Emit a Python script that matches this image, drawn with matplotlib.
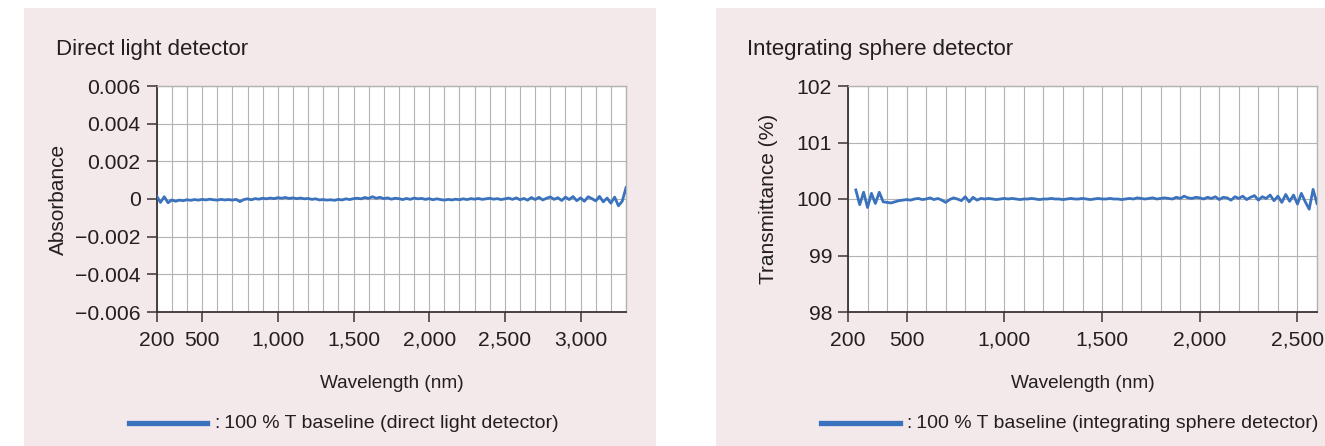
import numpy as np
import matplotlib
matplotlib.use("Agg")
import matplotlib.pyplot as plt
from matplotlib.patches import Rectangle
from matplotlib.lines import Line2D

plt.rcParams['font.family'] = ['Liberation Sans', 'DejaVu Sans']

# ---- data ----
# direct light detector, absorbance in units of 1e-4, sampled every 25 nm from 200 to 3300
direct_wl = np.arange(200, 3301, 25)
direct_abs_e4 = [
    1.5, -1.8, 1.2, -2.0, -0.5,
    -1.2, -0.6, -0.9, -0.4, -0.7, -0.3, -0.6, -0.2,
    -0.5, -0.1, -0.4, -0.6, -0.2, -0.5, -0.3, -0.6,
    -0.2, -1.4, -0.3, 0.1, -0.4, 0.2, -0.1, 0.4,
    0.1, 0.5, 0.2, 0.7, 0.4, 0.8, 0.3, 0.6,
    0.2, 0.5, 0.1, 0.3, -0.2, 0.1, -0.5, -0.3,
    -0.6, -0.4, -0.7, -0.2, -0.5, 0.1, -0.3, 0.2,
    0.4, 0.1, 0.8, 0.3, 1.2, 0.4, 0.9, 0.2,
    0.6, -0.1, 0.4, 0.2, -0.3, 0.3, -0.2, 0.5,
    0.1, 0.3, -0.2, 0.2, -0.4, 0.1, -0.3, -0.6,
    -0.2, -0.5, -0.1, -0.4, 0.1, -0.3, 0.2, -0.1,
    0.3, -0.2, 0.1, 0.4, -0.1, 0.2, -0.3, 0.1,
    0.5, -0.2, 0.6, -0.4, 0.3, -0.6, 0.8, -0.3,
    0.9, -0.5, 0.4, 1.1, -0.2, 0.7, -0.8, 1.0,
    -0.3, 1.3, -0.9, 0.6, -1.2, 1.2, 0.2, -1.0,
    1.4, -1.5, 0.5, -2.2, 1.0, -3.6, -1.2, 6.0,
]

# integrating sphere detector, deviation from 100 %T in units of 0.01 %, every 20 nm from 240 to 2600
sphere_wl = np.arange(240, 2601, 20)
sphere_dev_e2 = [
    16, -10, 12, -15, 10, -8, 12, -5, -6,
    -7, -5, -3, -2, -1, -2, 0, 1, -1, 0,
    2, -1, 1, -2, -6, -1, 2, 0, -3, 4,
    -5, 3, -2, 1, 0, 1, 0, -1, 0, 1,
    0, 1, 0, -1, 0, 0, 1, 0, -1, 0,
    0, 1, 0, 0, -1, 0, 1, 0, 0, 1,
    0, -1, 0, 1, 0, 0, 1, 0, 0, -1,
    0, 1, 0, 2, 1, 0, 1, 2, 0, 1,
    2, 1, 0, 3, 1, 5, 2, 1, 3, 2,
    0, 3, 1, 4, -1, 3, 2, -2, 4, 1,
    5, -1, 3, 6, -2, 4, 1, 7, -3, 5,
    -6, 8, -4, 7, -9, 10, -5, -18, 17, -8,
]

direct_xticks = [200, 500, 1000, 1500, 2000, 2500, 3000]
direct_xlabels = ['200', '500', '1,000', '1,500', '2,000', '2,500', '3,000']
direct_yticks = [0.006, 0.004, 0.002, 0, -0.002, -0.004, -0.006]
direct_ylabels = ['0.006', '0.004', '0.002', '0', '\u22120.002', '\u22120.004', '\u22120.006']

sphere_xticks = [200, 500, 1000, 1500, 2000, 2500]
sphere_xlabels = ['200', '500', '1,000', '1,500', '2,000', '2,500']
sphere_yticks = [98, 99, 100, 101, 102]
sphere_ylabels = ['98', '99', '100', '101', '102']

# ---- style ----
W, H = 1325, 446
PINK = '#f3e8ea'
TXT = '#231f20'
BLUE = '#3a72bd'
GRID = '#b3b3b3'

fig = plt.figure(figsize=(W / 100, H / 100), dpi=100)

fig.patches.append(Rectangle((24 / W, 0), 632 / W, 438 / H, transform=fig.transFigure,
                             facecolor=PINK, edgecolor='none', zorder=-1))
fig.patches.append(Rectangle((716 / W, 0), (W - 716) / W, 438 / H, transform=fig.transFigure,
                             facecolor=PINK, edgecolor='none', zorder=-1))


def style_axes(ax, xlim, ylim, xticks, xlabels, yticks, ylabels, ylabel, ylab_x):
    ax.set_facecolor('white')
    ax.set_xlim(*xlim)
    ax.set_ylim(*ylim)
    ax.set_xticks(xticks)
    ax.set_xticklabels(xlabels)
    ax.set_xticks(np.arange(xlim[0], xlim[1] + 1, 100), minor=True)
    ax.set_yticks(yticks)
    ax.set_yticklabels(ylabels)
    ax.grid(True, which='both', axis='x', color=GRID, lw=0.8)
    ax.grid(True, which='major', axis='y', color=GRID, lw=0.8)
    ax.set_axisbelow(True)
    ax.tick_params(which='major', direction='out', length=7.5, width=1.1, color='#3c3234',
                   labelsize=15.2, labelcolor=TXT)
    ax.tick_params(axis='y', pad=4)
    ax.tick_params(axis='x', pad=6)
    ax.tick_params(which='minor', length=0)
    for s in ['top', 'right']:
        ax.spines[s].set_color(GRID)
        ax.spines[s].set_linewidth(1.0)
    for s in ['left', 'bottom']:
        ax.spines[s].set_color('#3c3234')
        ax.spines[s].set_linewidth(1.3)
    ax.set_xlabel('Wavelength (nm)', fontsize=13.7, color=TXT)
    ax.xaxis.set_label_coords(0.5, -0.279)
    ax.set_ylabel(ylabel, fontsize=15, color=TXT)
    ax.yaxis.set_label_coords(ylab_x, 0.5)


ax1 = fig.add_axes([156.7 / W, (H - 312) / H, (626 - 156.7) / W, 226 / H])
ax1.plot(direct_wl, np.array(direct_abs_e4) * 1e-4, color=BLUE, lw=2.0, zorder=3)
style_axes(ax1, (200, 3300), (-0.006, 0.006), direct_xticks, direct_xlabels,
           direct_yticks, direct_ylabels, 'Absorbance', -0.189)

ax2 = fig.add_axes([848 / W, (H - 312) / H, (1317 - 848) / W, 226 / H])
ax2.plot(sphere_wl, 100 + np.array(sphere_dev_e2) * 0.01, color=BLUE, lw=2.0, zorder=3)
style_axes(ax2, (200, 2600), (98, 102), sphere_xticks, sphere_xlabels,
           sphere_yticks, sphere_ylabels, 'Transmittance (%)', -0.149)

# panel titles
fig.text(56 / W, (H - 50) / H, 'Direct light detector', fontsize=16, color=TXT, va='center', ha='left')
fig.text(747 / W, (H - 50) / H, 'Integrating sphere detector', fontsize=16, color=TXT, va='center', ha='left')

# legends
ly = (H - 423) / H
fig.add_artist(Line2D([128.6 / W, 207 / W], [ly, ly], color=BLUE, lw=3.8, transform=fig.transFigure))
fig.text(215 / W, ly, ':\u2009100 % T baseline (direct light detector)', fontsize=14,
         color=TXT, va='center', ha='left')
fig.add_artist(Line2D([820.6 / W, 899.7 / W], [ly, ly], color=BLUE, lw=3.8, transform=fig.transFigure))
fig.text(907 / W, ly, ':\u2009100 % T baseline (integrating sphere detector)', fontsize=14,
         color=TXT, va='center', ha='left')

fig.savefig('out.png', dpi=100, facecolor='white')
